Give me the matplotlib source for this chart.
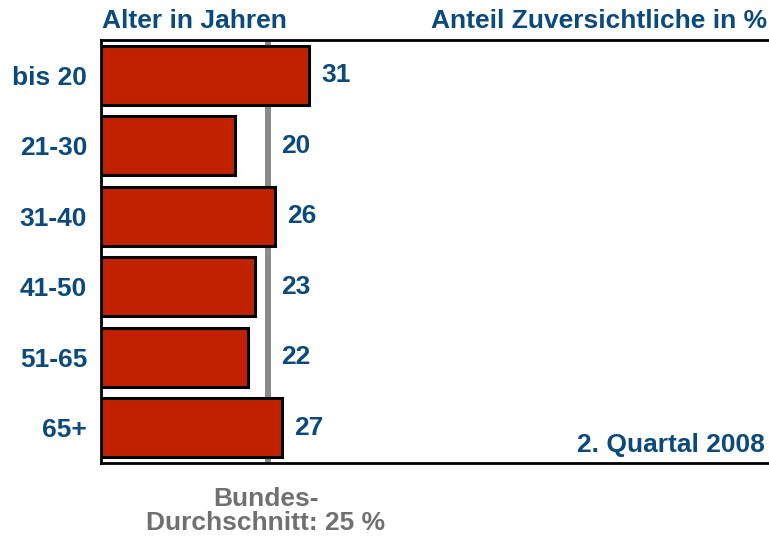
import matplotlib
matplotlib.use("Agg")
import matplotlib.pyplot as plt

categories = ["bis 20", "21-30", "31-40", "41-50", "51-65", "65+"]
values = [31, 20, 26, 23, 22, 27]
average = 25
header_left = "Alter in Jahren"
header_right = "Anteil Zuversichtliche in %"
period = "2. Quartal 2008"
avg_label_lines = ["Bundes-", "Durchschnitt: 25 %"]

plt.rcParams['font.family'] = ['Liberation Sans', 'DejaVu Sans']
blue = "#0b4a7d"
red = "#c02200"
gray = "#8a8a8a"
FS = 19

W, H = 769, 541
fig = plt.figure(figsize=(W/100, H/100), dpi=100)
ax = fig.add_axes([101/W, 1 - 463/H, (W - 101)/W + 0.002, (463 - 40)/H])

ys = list(range(len(categories)))
ax.axvline(average, color=gray, lw=4.3, zorder=1)
ax.barh(ys, values, height=0.83, color=red, edgecolor="black", linewidth=2.2, zorder=2)
ax.set_xlim(0, 100)
ax.set_ylim(len(categories) - 0.5, -0.5)

for y, v in zip(ys, values):
    ax.annotate(str(v), (max(v, average), y), xytext=(9, 0), textcoords="offset points",
                va="center", ha="left", fontsize=FS, fontweight="bold", color=blue)

ax.set_yticks(ys)
ax.set_yticklabels(categories, fontsize=FS, fontweight="bold", color=blue)
ax.tick_params(axis="y", length=0, pad=10)
ax.set_xticks([])
ax.spines["right"].set_visible(False)
for s in ["left", "top", "bottom"]:
    ax.spines[s].set_linewidth(2)

fig.text(102/W, 1 - 28/H, header_left, ha="left", va="baseline", fontsize=FS, fontweight="bold", color=blue)
fig.text(767/W, 1 - 28/H, header_right, ha="right", va="baseline", fontsize=FS, fontweight="bold", color=blue)
fig.text(765/W, 1 - 452/H, period, ha="right", va="baseline", fontsize=FS, fontweight="bold", color=blue)
for i, line in enumerate(avg_label_lines):
    fig.text(266/W, 1 - (506 + 24 * i)/H, line, ha="center", va="baseline", fontsize=FS,
             fontweight="bold", color="#707070")

fig.savefig("out.png", dpi=100)
